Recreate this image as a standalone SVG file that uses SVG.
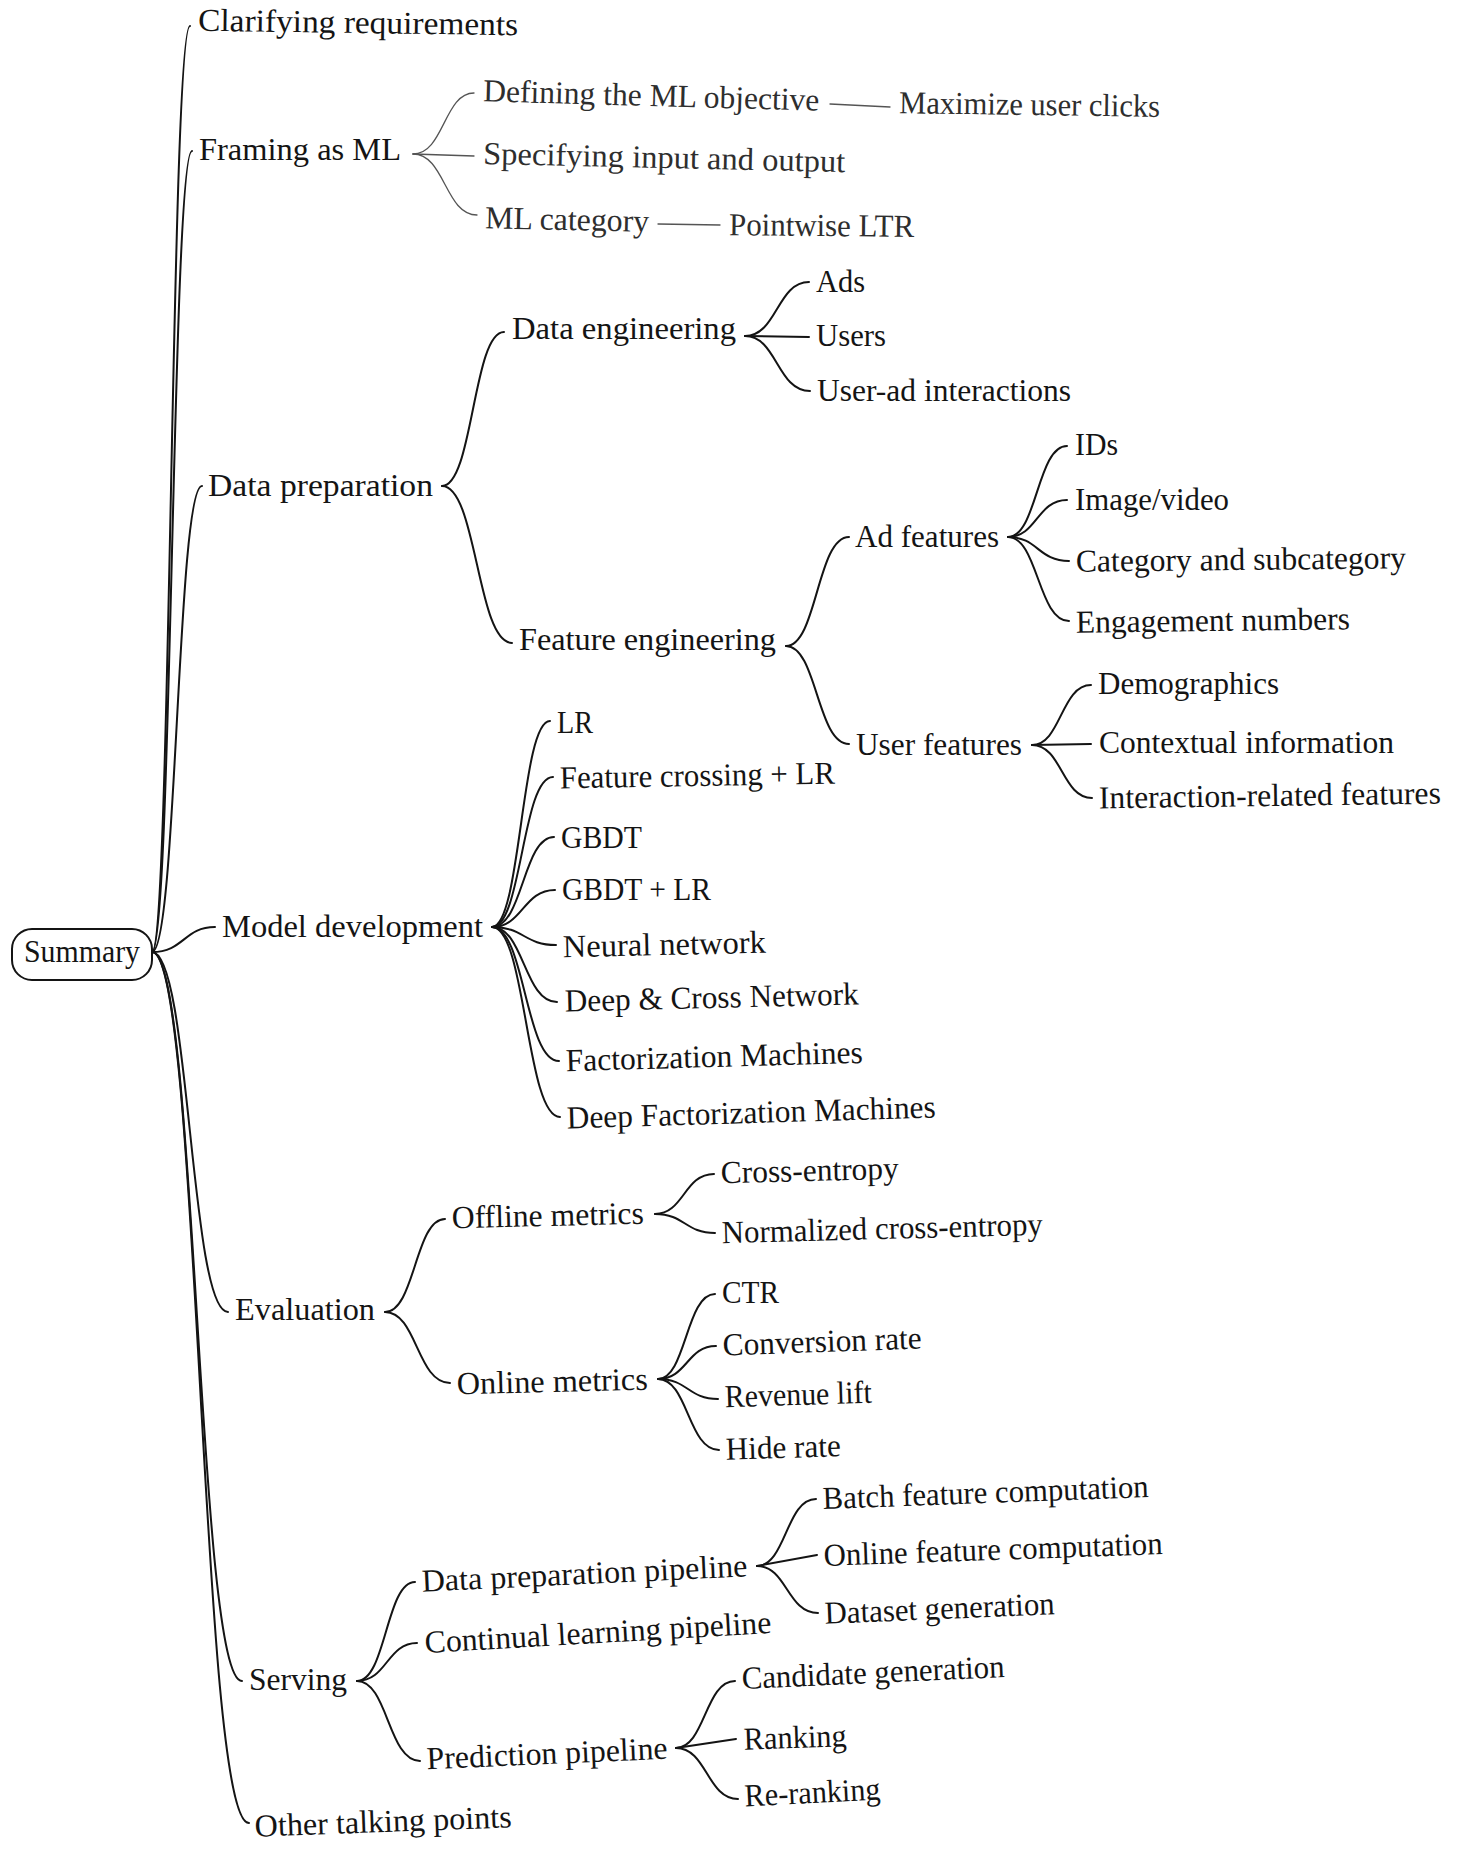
<svg xmlns="http://www.w3.org/2000/svg" width="1472" height="1856" viewBox="0 0 1472 1856">
<style>
text{font-family:"Liberation Serif","Times New Roman",serif;font-size:32px;fill:#141414}
.light{fill:#2e2e2e}
.c{fill:none;stroke:#141414;stroke-width:2;stroke-linecap:round}
.t{fill:none;stroke:#555;stroke-width:1.3;stroke-linecap:round}
.box{fill:#fff;stroke:#141414;stroke-width:2}
</style>
<rect width="1472" height="1856" fill="#fff"/>
<g id="connectors">
<path class="c" d="M152 952 C171 952 171 26 190 26"/>
<path class="c" d="M152 952 C172 952 172 151 192 151"/>
<path class="c" d="M152 952 C177 952 177 486 202 486"/>
<path class="c" d="M152 952 C184 952 184 927 215 927"/>
<path class="c" d="M152 952 C190 952 190 1312 228 1312"/>
<path class="c" d="M152 952 C197 952 197 1681 242 1681"/>
<path class="c" d="M152 952 C200 952 200 1823 249 1823"/>
<path class="t" d="M413 154 C444 154 444 93 474 93"/>
<path class="t" d="M413 154 L474 156"/>
<path class="t" d="M413 154 C445 154 445 215 477 215"/>
<path class="t" d="M830 104 L890 107"/>
<path class="t" d="M658 224 L720 225"/>
<path class="c" d="M442 486 C473 486 473 332 504 332"/>
<path class="c" d="M442 486 C477 486 477 643 512 643"/>
<path class="c" d="M745 336 C777 336 777 282 809 282"/>
<path class="c" d="M745 336 L809 337"/>
<path class="c" d="M745 336 C777 336 777 391 810 391"/>
<path class="c" d="M786 646 C817 646 817 537 849 537"/>
<path class="c" d="M786 646 C817 646 817 744 849 744"/>
<path class="c" d="M1008 537 C1037 537 1037 446 1067 446"/>
<path class="c" d="M1008 537 C1037 537 1037 500 1067 500"/>
<path class="c" d="M1008 537 C1038 537 1038 561 1069 561"/>
<path class="c" d="M1008 537 C1038 537 1038 621 1069 621"/>
<path class="c" d="M1032 745 C1061 745 1061 685 1091 685"/>
<path class="c" d="M1032 745 L1091 744"/>
<path class="c" d="M1032 745 C1062 745 1062 798 1092 798"/>
<path class="c" d="M492 927 C521 927 521 721 550 721"/>
<path class="c" d="M492 927 C522 927 522 777 553 777"/>
<path class="c" d="M492 927 C523 927 523 837 554 837"/>
<path class="c" d="M492 927 C523 927 523 890 555 890"/>
<path class="c" d="M492 927 C524 927 524 945 556 945"/>
<path class="c" d="M492 927 C524 927 524 1002 557 1002"/>
<path class="c" d="M492 927 C525 927 525 1061 559 1061"/>
<path class="c" d="M492 927 C526 927 526 1117 560 1117"/>
<path class="c" d="M385 1312 C415 1312 415 1219 445 1219"/>
<path class="c" d="M385 1312 C417 1312 417 1383 450 1383"/>
<path class="c" d="M655 1214 C684 1214 684 1174 714 1174"/>
<path class="c" d="M655 1214 C685 1214 685 1233 715 1233"/>
<path class="c" d="M658 1379 C686 1379 686 1294 715 1294"/>
<path class="c" d="M658 1379 C687 1379 687 1346 716 1346"/>
<path class="c" d="M658 1379 C688 1379 688 1399 718 1399"/>
<path class="c" d="M658 1379 C688 1379 688 1450 719 1450"/>
<path class="c" d="M357 1681 C386 1681 386 1582 415 1582"/>
<path class="c" d="M357 1681 C387 1681 387 1643 417 1643"/>
<path class="c" d="M357 1681 C388 1681 388 1761 420 1761"/>
<path class="c" d="M757 1566 C786 1566 786 1499 816 1499"/>
<path class="c" d="M757 1566 L817 1555"/>
<path class="c" d="M757 1566 C787 1566 787 1613 818 1613"/>
<path class="c" d="M676 1748 C705 1748 705 1681 735 1681"/>
<path class="c" d="M676 1748 L736 1739"/>
<path class="c" d="M676 1748 C707 1748 707 1799 738 1799"/>
</g>
<g id="n-summary"><rect class="box" x="12" y="929" width="140" height="51" rx="20"/><text x="82" y="962" text-anchor="middle" textLength="116" lengthAdjust="spacingAndGlyphs">Summary</text></g>
<g id="n-clarifying"><text x="198" y="33" textLength="320" lengthAdjust="spacingAndGlyphs" transform="rotate(0.8 358 33)">Clarifying requirements</text></g>
<g id="n-framing"><text x="199" y="160" textLength="202" lengthAdjust="spacingAndGlyphs">Framing as ML</text></g>
<g id="n-defining"><text class="light" x="483" y="106" textLength="336" lengthAdjust="spacingAndGlyphs" transform="rotate(1.6 651 106)">Defining the ML objective</text></g>
<g id="n-maximize"><text class="light" x="899" y="115" textLength="261" lengthAdjust="spacingAndGlyphs" transform="rotate(0.8 1030 115)">Maximize user clicks</text></g>
<g id="n-specifying"><text class="light" x="483" y="168" textLength="362" lengthAdjust="spacingAndGlyphs" transform="rotate(1.3 664 168)">Specifying input and output</text></g>
<g id="n-mlcategory"><text class="light" x="485" y="230" textLength="164" lengthAdjust="spacingAndGlyphs" transform="rotate(1.2 567 230)">ML category</text></g>
<g id="n-pointwise"><text class="light" x="729" y="236" textLength="185" lengthAdjust="spacingAndGlyphs" transform="rotate(0.5 821 236)">Pointwise LTR</text></g>
<g id="n-dataprep"><text x="208" y="496" textLength="225" lengthAdjust="spacingAndGlyphs">Data preparation</text></g>
<g id="n-dataeng"><text x="512" y="339" textLength="224" lengthAdjust="spacingAndGlyphs">Data engineering</text></g>
<g id="n-ads"><text x="816" y="292" textLength="49" lengthAdjust="spacingAndGlyphs">Ads</text></g>
<g id="n-users"><text x="816" y="346" textLength="70" lengthAdjust="spacingAndGlyphs">Users</text></g>
<g id="n-userad"><text x="817" y="401" textLength="254" lengthAdjust="spacingAndGlyphs">User-ad interactions</text></g>
<g id="n-feateng"><text x="519" y="650" textLength="257" lengthAdjust="spacingAndGlyphs">Feature engineering</text></g>
<g id="n-adfeat"><text x="855" y="547" textLength="144" lengthAdjust="spacingAndGlyphs">Ad features</text></g>
<g id="n-ids"><text x="1075" y="455" textLength="43" lengthAdjust="spacingAndGlyphs">IDs</text></g>
<g id="n-image"><text x="1075" y="510" textLength="154" lengthAdjust="spacingAndGlyphs">Image/video</text></g>
<g id="n-category"><text x="1076" y="570" textLength="330" lengthAdjust="spacingAndGlyphs" transform="rotate(-0.6 1241 570)">Category and subcategory</text></g>
<g id="n-engagement"><text x="1076" y="631" textLength="274" lengthAdjust="spacingAndGlyphs" transform="rotate(-0.7 1213 631)">Engagement numbers</text></g>
<g id="n-userfeat"><text x="856" y="755" textLength="166" lengthAdjust="spacingAndGlyphs">User features</text></g>
<g id="n-demographics"><text x="1098" y="694" textLength="181" lengthAdjust="spacingAndGlyphs">Demographics</text></g>
<g id="n-contextual"><text x="1099" y="753" textLength="295" lengthAdjust="spacingAndGlyphs">Contextual information</text></g>
<g id="n-interaction"><text x="1099" y="806" textLength="342" lengthAdjust="spacingAndGlyphs" transform="rotate(-0.8 1270 806)">Interaction-related features</text></g>
<g id="n-modeldev"><text x="222" y="937" textLength="261" lengthAdjust="spacingAndGlyphs">Model development</text></g>
<g id="n-lr"><text x="557" y="733" textLength="36" lengthAdjust="spacingAndGlyphs">LR</text></g>
<g id="n-fclr"><text x="560" y="786" textLength="275" lengthAdjust="spacingAndGlyphs" transform="rotate(-1 697 786)">Feature crossing + LR</text></g>
<g id="n-gbdt"><text x="561" y="848" textLength="81" lengthAdjust="spacingAndGlyphs">GBDT</text></g>
<g id="n-gbdtlr"><text x="562" y="900" textLength="149" lengthAdjust="spacingAndGlyphs">GBDT + LR</text></g>
<g id="n-nn"><text x="563" y="955" textLength="203" lengthAdjust="spacingAndGlyphs" transform="rotate(-1.3 664 955)">Neural network</text></g>
<g id="n-dcn"><text x="565" y="1008" textLength="294" lengthAdjust="spacingAndGlyphs" transform="rotate(-1.4 712 1008)">Deep &amp; Cross Network</text></g>
<g id="n-fm"><text x="566" y="1067" textLength="297" lengthAdjust="spacingAndGlyphs" transform="rotate(-1.6 714 1067)">Factorization Machines</text></g>
<g id="n-dfm"><text x="567" y="1123" textLength="369" lengthAdjust="spacingAndGlyphs" transform="rotate(-1.7 751 1123)">Deep Factorization Machines</text></g>
<g id="n-evaluation"><text x="235" y="1320" textLength="140" lengthAdjust="spacingAndGlyphs">Evaluation</text></g>
<g id="n-offline"><text x="452" y="1226" textLength="192" lengthAdjust="spacingAndGlyphs" transform="rotate(-1.4 548 1226)">Offline metrics</text></g>
<g id="n-ce"><text x="721" y="1181" textLength="178" lengthAdjust="spacingAndGlyphs" transform="rotate(-1.5 810 1181)">Cross-entropy</text></g>
<g id="n-nce"><text x="722" y="1239" textLength="321" lengthAdjust="spacingAndGlyphs" transform="rotate(-1.5 882 1239)">Normalized cross-entropy</text></g>
<g id="n-online"><text x="457" y="1392" textLength="191" lengthAdjust="spacingAndGlyphs" transform="rotate(-1.4 552 1392)">Online metrics</text></g>
<g id="n-ctr"><text x="722" y="1303" textLength="57" lengthAdjust="spacingAndGlyphs">CTR</text></g>
<g id="n-conversion"><text x="723" y="1352" textLength="199" lengthAdjust="spacingAndGlyphs" transform="rotate(-2 822 1352)">Conversion rate</text></g>
<g id="n-revenue"><text x="725" y="1405" textLength="147" lengthAdjust="spacingAndGlyphs" transform="rotate(-1.8 798 1405)">Revenue lift</text></g>
<g id="n-hide"><text x="726" y="1458" textLength="115" lengthAdjust="spacingAndGlyphs" transform="rotate(-1.8 783 1458)">Hide rate</text></g>
<g id="n-serving"><text x="249" y="1690" textLength="98" lengthAdjust="spacingAndGlyphs">Serving</text></g>
<g id="n-dpp"><text x="422" y="1584" textLength="326" lengthAdjust="spacingAndGlyphs" transform="rotate(-2.7 585 1584)">Data preparation pipeline</text></g>
<g id="n-batch"><text x="823" y="1503" textLength="326" lengthAdjust="spacingAndGlyphs" transform="rotate(-2.1 986 1503)">Batch feature computation</text></g>
<g id="n-onlinefc"><text x="824" y="1560" textLength="339" lengthAdjust="spacingAndGlyphs" transform="rotate(-2 993 1560)">Online feature computation</text></g>
<g id="n-dataset"><text x="825" y="1619" textLength="230" lengthAdjust="spacingAndGlyphs" transform="rotate(-2.4 940 1619)">Dataset generation</text></g>
<g id="n-continual"><text x="425" y="1643" textLength="347" lengthAdjust="spacingAndGlyphs" transform="rotate(-3.3 598 1643)">Continual learning pipeline</text></g>
<g id="n-prediction"><text x="427" y="1764" textLength="241" lengthAdjust="spacingAndGlyphs" transform="rotate(-2.5 547 1764)">Prediction pipeline</text></g>
<g id="n-candidate"><text x="742" y="1683" textLength="263" lengthAdjust="spacingAndGlyphs" transform="rotate(-2.6 873 1683)">Candidate generation</text></g>
<g id="n-ranking"><text x="744" y="1748" textLength="103" lengthAdjust="spacingAndGlyphs" transform="rotate(-2 795 1748)">Ranking</text></g>
<g id="n-reranking"><text x="745" y="1803" textLength="136" lengthAdjust="spacingAndGlyphs" transform="rotate(-3 813 1803)">Re-ranking</text></g>
<g id="n-other"><text x="255" y="1832" textLength="257" lengthAdjust="spacingAndGlyphs" transform="rotate(-2.1 383 1832)">Other talking points</text></g>
</svg>
